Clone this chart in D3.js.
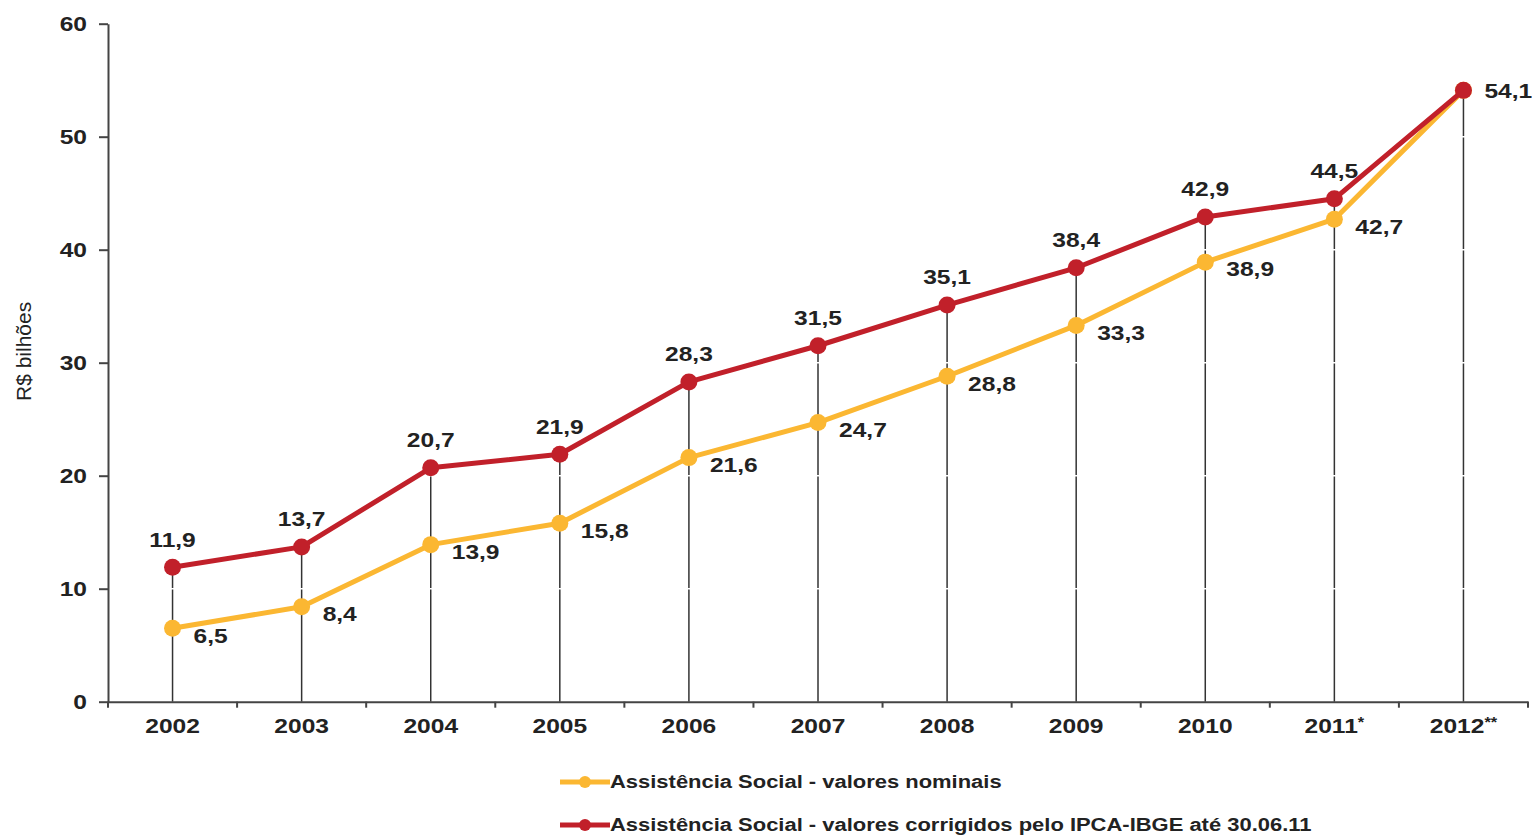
<!DOCTYPE html>
<html>
<head>
<meta charset="utf-8">
<script src="https://cdn.jsdelivr.net/npm/d3@7"></script>
<style>
  body { margin: 0; background: #fff; }
  text { font-family: "Liberation Sans", Arial, sans-serif; fill: #222; }
</style>
</head>
<body>
<script>
const years = ["2002", "2003", "2004", "2005", "2006", "2007", "2008", "2009", "2010", "2011*", "2012**"];
const nominal = [6.5, 8.4, 13.9, 15.8, 21.6, 24.7, 28.8, 33.3, 38.9, 42.7, 54.1];
const corrected = [11.9, 13.7, 20.7, 21.9, 28.3, 31.5, 35.1, 38.4, 42.9, 44.5, 54.1];
const yTicks = [0, 10, 20, 30, 40, 50, 60];
const legendLabels = [
    "Assistência Social - valores nominais",
    "Assistência Social - valores corrigidos pelo IPCA-IBGE até 30.06.11"
];

const svgWidth = 1532, svgHeight = 835;
const margin = {top: 23.7, right: 4, bottom: 133.3, left: 108};
const chartWidth = svgWidth - margin.left - margin.right;
const chartHeight = svgHeight - margin.top - margin.bottom;

const yellow = "#fbb732", red = "#c1202a";
const stretch = 1.17;
const fmt = v => d3.format(".1f")(v).replace(".", ",");

const svg = d3.select("body").append("svg")
    .attr("width", svgWidth)
    .attr("height", svgHeight);

const g = svg.append("g")
    .attr("transform", `translate(${margin.left},${margin.top})`);

const x = d3.scaleBand().domain(years).range([0, chartWidth]).padding(0);
const y = d3.scaleLinear().domain([0, 60]).range([chartHeight, 0]);
const cx = d => x(d) + x.bandwidth() / 2;

// drop lines from the highest point of each year
g.append("g").selectAll("line")
    .data(years)
    .join("line")
    .attr("x1", cx).attr("x2", cx)
    .attr("y1", (d, i) => y(Math.max(nominal[i], corrected[i])))
    .attr("y2", y(0))
    .attr("stroke", "#333")
    .attr("stroke-width", 1.5);

// white gridlines
g.append("g").selectAll("line")
    .data(yTicks.filter(t => t > 0))
    .join("line")
    .attr("x1", 1).attr("x2", chartWidth)
    .attr("y1", d => y(d)).attr("y2", d => y(d))
    .attr("stroke", "#fff")
    .attr("stroke-width", 1.5);

// y axis
const yAxis = g.append("g")
    .call(d3.axisLeft(y).tickValues(yTicks).tickSizeInner(9).tickSizeOuter(0));
yAxis.select(".domain").attr("stroke", "#444").attr("stroke-width", 2);
yAxis.selectAll(".tick line").attr("stroke", "#444").attr("stroke-width", 2);
yAxis.selectAll(".tick text")
    .attr("font-size", 21).attr("font-weight", "bold")
    .attr("font-family", "Liberation Sans, Arial, sans-serif")
    .attr("fill", "#222")
    .attr("x", 0)
    .attr("transform", `translate(-21,0) scale(${stretch},1)`);

// x axis
const xAxis = g.append("g")
    .attr("transform", `translate(0,${chartHeight})`)
    .call(d3.axisBottom(x).tickSize(0).tickPadding(16));
xAxis.select(".domain").attr("stroke", "#444").attr("stroke-width", 2);
xAxis.selectAll(".tick line").remove();
xAxis.selectAll(".tick text")
    .attr("font-size", 21).attr("font-weight", "bold")
    .attr("font-family", "Liberation Sans, Arial, sans-serif")
    .attr("fill", "#222")
    .attr("transform", `scale(${stretch},1)`)
    .each(function (d) {
        const t = d3.select(this).text("");
        const base = d.replace(/\*/g, "");
        const stars = d.slice(base.length);
        t.append("tspan").text(base);
        if (stars) {
            t.append("tspan")
                .attr("font-size", 14)
                .attr("dy", -6)
                .text(stars);
        }
    });
xAxis.append("g").selectAll("line")
    .data(years.map(d => x(d)).concat([chartWidth]))
    .join("line")
    .attr("x1", d => d).attr("x2", d => d)
    .attr("y1", 0).attr("y2", 6)
    .attr("stroke", "#444").attr("stroke-width", 2);

// y label
svg.append("text")
    .attr("transform", `translate(31,${margin.top + y(31)}) rotate(-90)`)
    .attr("text-anchor", "middle")
    .attr("font-size", 21)
    .text("R$ bilhões");

// series
const series = [
    {values: nominal, color: yellow},
    {values: corrected, color: red}
];
const line = d3.line().x((d, i) => cx(years[i])).y(d => y(d));

series.forEach(s => {
    g.append("path")
        .datum(s.values)
        .attr("d", line)
        .attr("fill", "none")
        .attr("stroke", s.color)
        .attr("stroke-width", 5)
        .attr("stroke-linejoin", "round");
    g.append("g").selectAll("circle")
        .data(s.values)
        .join("circle")
        .attr("cx", (d, i) => cx(years[i]))
        .attr("cy", d => y(d))
        .attr("r", 8.5)
        .attr("fill", s.color);
});

// value labels
const lastIdx = years.length - 1;
g.append("g").selectAll("text")
    .data(nominal)
    .join("text")
    .attr("transform", (d, i) => `translate(${cx(years[i]) + 21},${y(d) + (i === lastIdx ? 0 : 7)}) scale(${stretch},1)`)
    .attr("dominant-baseline", "central")
    .attr("font-size", 21).attr("font-weight", "bold")
    .text(d => fmt(d));

g.append("g").selectAll("text")
    .data(corrected.slice(0, lastIdx))
    .join("text")
    .attr("transform", (d, i) => `translate(${cx(years[i])},${y(d) - 28}) scale(${stretch},1)`)
    .attr("dominant-baseline", "central")
    .attr("text-anchor", "middle")
    .attr("font-size", 21).attr("font-weight", "bold")
    .text(d => fmt(d));

// legend
const legendColors = [yellow, red];
const legend = svg.append("g").selectAll("g")
    .data(legendLabels)
    .join("g")
    .attr("transform", (d, i) => `translate(560,${782 + i * 43})`);
legend.append("line")
    .attr("x1", 0).attr("x2", 50)
    .attr("stroke", (d, i) => legendColors[i])
    .attr("stroke-width", 5);
legend.append("circle")
    .attr("cx", 25).attr("r", 6)
    .attr("fill", (d, i) => legendColors[i]);
legend.append("text")
    .attr("transform", `translate(50,0) scale(1.2,1)`)
    .attr("dominant-baseline", "central")
    .attr("font-size", 18.3).attr("font-weight", "bold")
    .text(d => d);
</script>
</body>
</html>
